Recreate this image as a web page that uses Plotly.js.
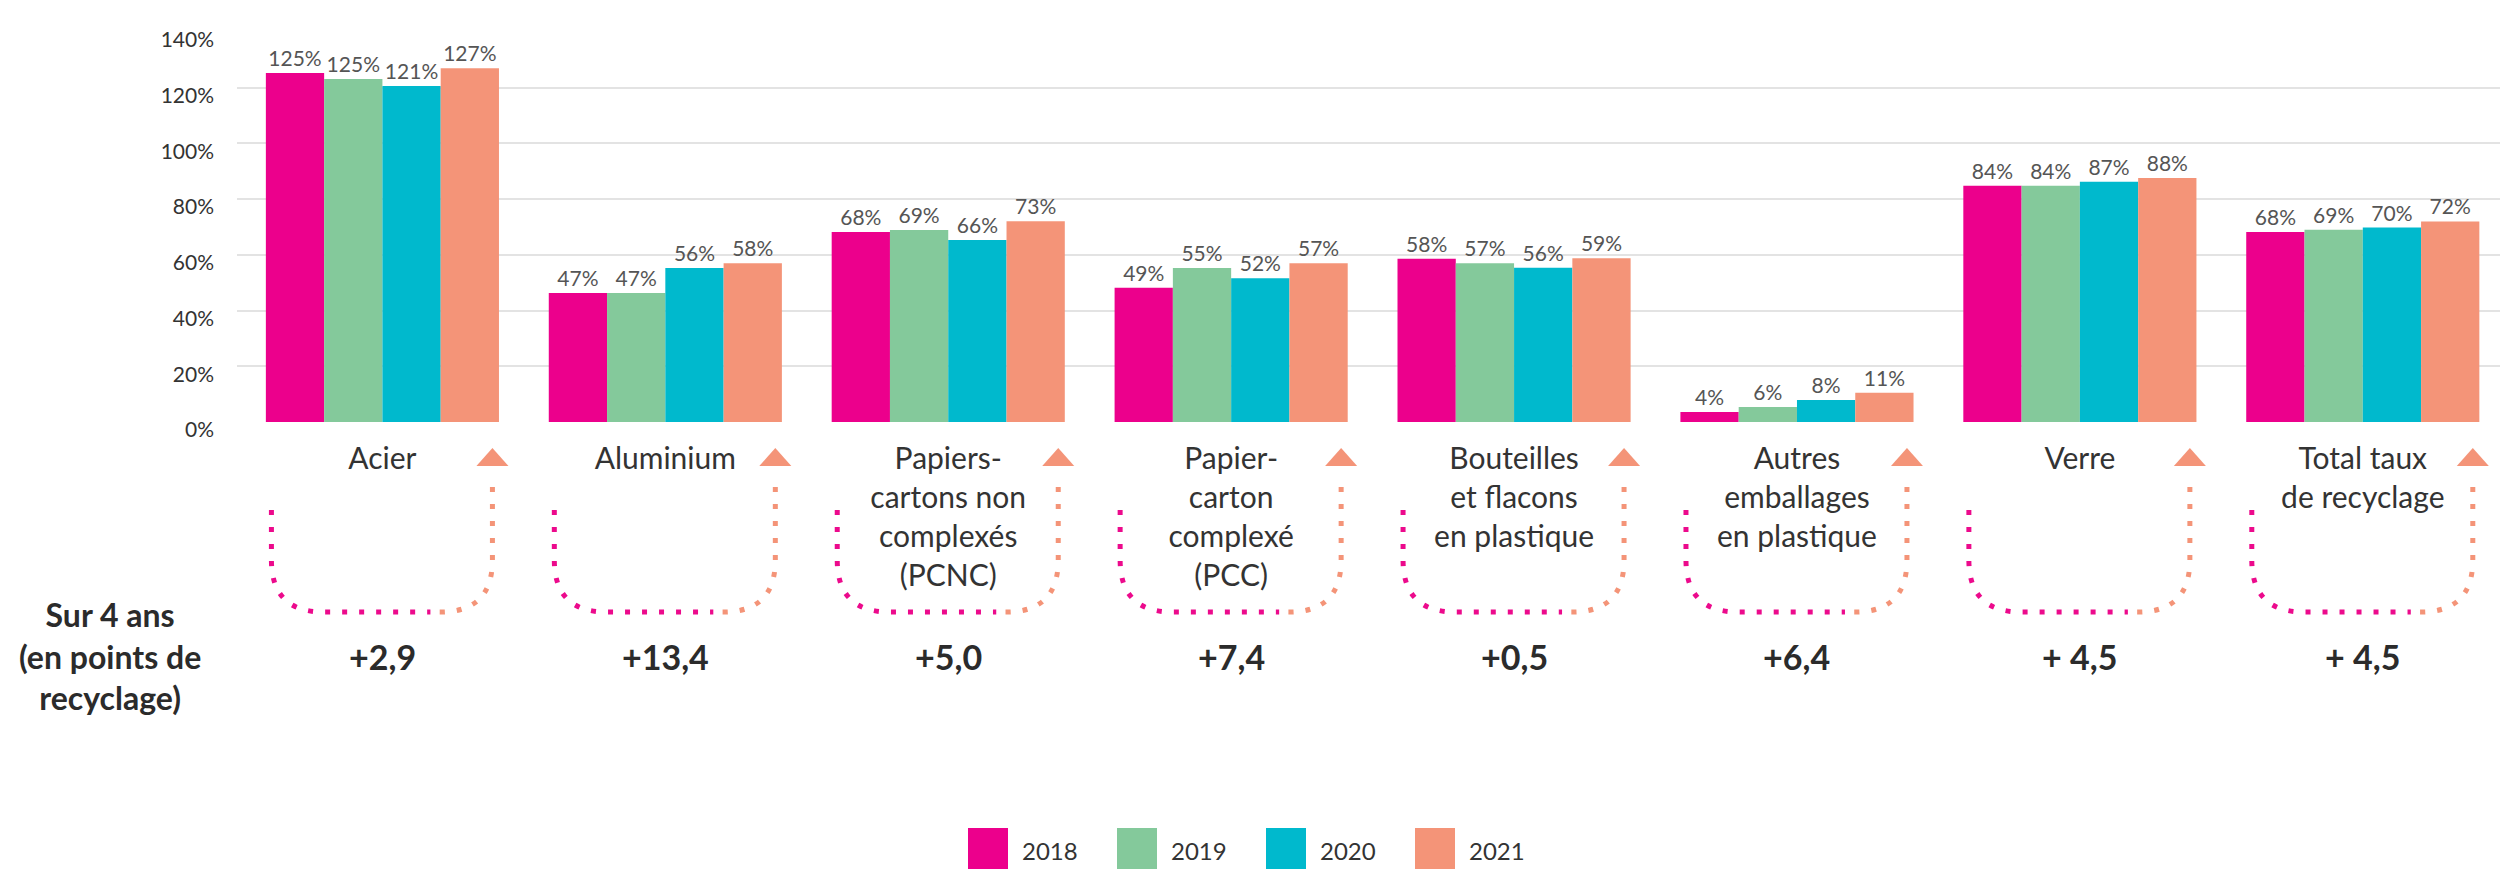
<!DOCTYPE html>
<html><head><meta charset="utf-8">
<script src="https://cdn.plot.ly/plotly-3.0.1.min.js"></script>
<style>html,body{margin:0;padding:0;background:#fff;} #chart{width:2501px;height:869px;}</style>
</head><body><div id="chart"></div>
<script>
// ---- data ----
const categories = ["Acier","Aluminium","Papiers-cartons non complexés (PCNC)","Papier-carton complexé (PCC)","Bouteilles et flacons en plastique","Autres emballages en plastique","Verre","Total taux de recyclage"];
const tickLabels = ["Acier","Aluminium","Papiers-<br>cartons non<br>complexés<br>(PCNC)","Papier-<br>carton<br>complexé<br>(PCC)","Bouteilles<br>et flacons<br>en plastique","Autres<br>emballages<br>en plastique","Verre","Total taux<br>de recyclage"];
const years = ["2018","2019","2020","2021"];
const values2018 = [125.3, 46.3, 68.2, 48.2, 58.6, 3.6, 84.8, 68.2];
const values2019 = [123.1, 46.3, 68.9, 55.3, 57.0, 5.4, 84.8, 69.0];
const values2020 = [120.6, 55.3, 65.3, 51.6, 55.4, 7.9, 86.2, 69.8];
const values2021 = [127.0, 57.0, 72.1, 57.0, 58.8, 10.5, 87.6, 72.0];
const labels2018 = ["125%","47%","68%","49%","58%","4%","84%","68%"];
const labels2019 = ["125%","47%","69%","55%","57%","6%","84%","69%"];
const labels2020 = ["121%","56%","66%","52%","56%","8%","87%","70%"];
const labels2021 = ["127%","58%","73%","57%","59%","11%","88%","72%"];
const changes4y = ["+2,9","+13,4","+5,0","+7,4","+0,5","+6,4","+ 4,5","+ 4,5"];
const changesTitle = "Sur 4 ans<br>(en points de<br>recyclage)";
const yTickVals = [0, 20, 40, 60, 80, 100, 120, 140];
const yTickText = ["0%","20%","40%","60%","80%","100%","120%","140%"];

// ---- styles ----
const colors = ["#EC008C", "#84C99B", "#00B9CD", "#F49478"];
const PINK = "#EC0A8C", SALMON = "#F49478";
const W = 2501, H = 869, ML = 237, MR = 1, MT = 32, MB = 447;
const plotW = W - ML - MR, plotH = H - MT - MB;
const xRange = [-0.514, 7.485];
const narrow = "Liberation Sans Narrow, Arial Narrow, Lato, sans-serif";

const series = [values2018, values2019, values2020, values2021];
const labels = [labels2018, labels2019, labels2020, labels2021];
const traces = years.map((y, k) => ({
  type: "bar", name: y, x: categories, y: series[k],
  text: labels[k], textposition: "outside", cliponaxis: false, constraintext: "none",
  textfont: {family: narrow, size: 21, color: "#555"},
  marker: {color: colors[k], line: {width: 0}},
  hoverinfo: "skip", showlegend: false
}));

// helpers: paper coords from category index + pixel offsets
const catX = (i, dx) => (i - xRange[0]) / (xRange[1] - xRange[0]) + dx / plotW;
const pxX = px => (px - ML) / plotW;
const belowY = dy => -dy / plotH;   // dy pixels below the 0% axis

const shapes = [];
const annotations = [];
categories.forEach((c, i) => {
  const X = dx => catX(i, dx).toFixed(5);
  const Y = dy => belowY(dy).toFixed(5);
  shapes.push({type: "path", xref: "paper", yref: "paper",
    path: `M ${X(-111)},${Y(88)} L ${X(-111)},${Y(138)} Q ${X(-111)},${Y(190)} ${X(-59)},${Y(190)} L ${X(48)},${Y(190)}`,
    line: {color: PINK, width: 5, dash: "5px,12px"}});
  shapes.push({type: "path", xref: "paper", yref: "paper",
    path: `M ${X(110)},${Y(65)} L ${X(110)},${Y(138)} Q ${X(110)},${Y(190)} ${X(58)},${Y(190)} L ${X(50)},${Y(190)}`,
    line: {color: SALMON, width: 5, dash: "5px,12px"}});
  shapes.push({type: "path", xref: "paper", yref: "paper",
    path: `M ${X(110)},${Y(26)} L ${X(126)},${Y(44)} L ${X(94)},${Y(44)} Z`,
    fillcolor: SALMON, line: {width: 0}});
  annotations.push({xref: "x", yref: "paper", x: c, y: belowY(234), text: changes4y[i],
    showarrow: false, xanchor: "center", yanchor: "middle",
    font: {family: "Lato", size: 34, color: "#2b2b2b", weight: 700}});
});
annotations.push({xref: "paper", yref: "paper", x: pxX(110), y: belowY(234), text: changesTitle,
  showarrow: false, xanchor: "center", yanchor: "middle", align: "center",
  font: {family: "Lato", size: 32, color: "#2b2b2b", weight: 700}});

// manual legend (large swatches)
years.forEach((y, k) => {
  const x0 = 968 + 149 * k;
  shapes.push({type: "rect", xref: "paper", yref: "paper",
    x0: pxX(x0), x1: pxX(x0 + 40), y0: belowY(448), y1: belowY(406),
    fillcolor: colors[k], line: {width: 0}});
  annotations.push({xref: "paper", yref: "paper", x: pxX(x0 + 52), y: belowY(428), text: y,
    showarrow: false, xanchor: "left", yanchor: "middle",
    font: {family: "Lato", size: 24, color: "#333"}});
});

const layout = {
  width: W, height: H,
  margin: {l: ML, r: MR, t: MT, b: MB, pad: 0},
  paper_bgcolor: "#fff", plot_bgcolor: "#fff",
  font: {family: "Lato", color: "#333"},
  barmode: "group", bargap: 0.176, bargroupgap: 0,
  showlegend: false,
  xaxis: {type: "category", range: xRange, tickvals: categories, ticktext: tickLabels,
    showgrid: false, showline: false, zeroline: false, ticks: "", automargin: false,
    tickfont: {family: "Lato", size: 30, color: "#333"}, ticklabelstandoff: 16, fixedrange: true},
  yaxis: {range: [0, 140], tickvals: yTickVals, ticktext: yTickText,
    showgrid: true, gridcolor: "#E3E3E3", gridwidth: 2, zeroline: false, showline: false,
    ticks: "", automargin: false, ticklabelstandoff: 22, ticklabelshift: 8,
    tickfont: {family: narrow, size: 21, color: "#333"}, fixedrange: true},
  shapes: shapes,
  annotations: annotations
};

Plotly.newPlot("chart", traces, layout, {displayModeBar: false, staticPlot: true});
</script>
</body></html>
